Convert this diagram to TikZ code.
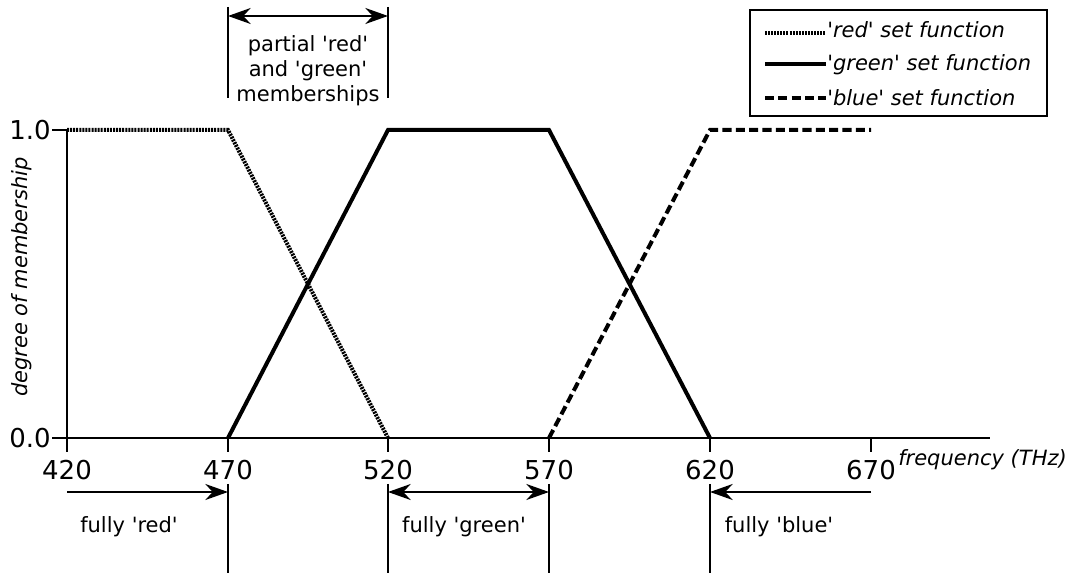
\documentclass[tikz,border=0pt]{standalone}
\usepackage{fontspec}
\setmainfont{DejaVu Sans}[Ligatures=TeXOff]
\usetikzlibrary{arrows.meta}
\begin{document}
\begin{tikzpicture}[x=0.75pt,y=-0.75pt,
  axisline/.style={line width=2.2pt},
  ticklabel/.style={font=\fontsize{19.5}{22}\selectfont, inner sep=0pt},
  smalltext/.style={font=\fontsize{15.75}{19}\selectfont, inner sep=0pt},
  redfn/.style={line width=3pt, dash pattern=on 1.5pt off 0.8pt},
  greenfn/.style={line width=3pt},
  bluefn/.style={line width=3pt, dash pattern=on 6.8pt off 3.2pt},
  guide/.style={line width=1.4pt},
  span/.style={line width=1.5pt}]
\useasboundingbox (0,0) rectangle (1072,573);

% key points of the axes
\coordinate (o) at (67,438);
\coordinate (ytop) at (67,130);
\coordinate (xend) at (990,438);
\foreach \f/\x in {420/67,470/228,520/388,570/549,620/710,670/871}{
  \coordinate (b\f) at (\x,438);
  \coordinate (t\f) at (\x,130);
}

% axes with ticks
\draw[axisline] (ytop) -- (67,452);
\draw[axisline] (52,438) -- (xend);
\draw[axisline] (52,130) -- (ytop);
\foreach \f in {470,520,570,620,670}{
  \draw[axisline] (b\f) -- ++(0,14);
}
\node[ticklabel, anchor=east] (l10) at (51,130) {1.0};
\node[ticklabel, anchor=east] (l00) at (51,438) {0.0};
\foreach \f/\x in {420/67,470/228,520/388,570/549,620/710,670/871}{
  \node[ticklabel, anchor=base] (n\f) at (\x,480) {\f};
}
\node[smalltext, anchor=base west] (xlab) at (898,466) {\itshape frequency (THz)};
\node[smalltext, rotate=90] (ylab) at (22,277) {\itshape degree of membership};

% membership functions
\draw[redfn] (t420) -- (t470) -- (b520);
\draw[greenfn, line join=miter] (b470) -- (t520) -- (t570) -- (b620);
\draw[bluefn] (b570) -- (t620) -- (t670);

% partial region marker
\coordinate (pa1) at (228,7);
\coordinate (pa2) at (228,98);
\coordinate (pb1) at (388,7);
\coordinate (pb2) at (388,98);
\coordinate (pm1) at (228,16);
\coordinate (pm2) at (388,16);
\draw[guide] (pa1) -- (pa2);
\draw[guide] (pb1) -- (pb2);
\draw[span, {Stealth[length=17pt,width=12pt,inset=5.5pt]}-{Stealth[length=17pt,width=12pt,inset=5.5pt]}] (pm1) -- (pm2);
\node[smalltext, anchor=base] (partial1) at (308,52) {partial 'red'};
\node[smalltext, anchor=base] (partial2) at (308,77) {and 'green'};
\node[smalltext, anchor=base] (partial3) at (308,102) {memberships};

% fully-member regions
\foreach \x in {228,388,549,710}{
  \draw[guide] (\x,484) -- (\x,573);
}
\coordinate (r0) at (67,492);
\coordinate (r1) at (228,492);
\coordinate (g0) at (388,492);
\coordinate (g1) at (549,492);
\coordinate (bl0) at (871,492);
\coordinate (bl1) at (710,492);
\draw[span, -{Stealth[length=17pt,width=12pt,inset=5.5pt]}] (r0) -- (r1);
\draw[span, {Stealth[length=17pt,width=12pt,inset=5.5pt]}-{Stealth[length=17pt,width=12pt,inset=5.5pt]}] (g0) -- (g1);
\draw[span, -{Stealth[length=17pt,width=12pt,inset=5.5pt]}] (bl0) -- (bl1);
\node[smalltext, anchor=base] (fr) at (129,533) {fully 'red'};
\node[smalltext, anchor=base] (fg) at (464,533) {fully 'green'};
\node[smalltext, anchor=base] (fb) at (779,533) {fully 'blue'};

% legend
\draw[line width=1.6pt] (750,10) rectangle (1047,116);
\draw[redfn] (765,33) -- (826,33);
\draw[greenfn] (765,64) -- (826,64);
\draw[bluefn] (765,98) -- (826,98);
\node[smalltext, anchor=base west] (lr) at (827,38) {\itshape 'red' set function};
\node[smalltext, anchor=base west] (lg) at (827,71) {\itshape 'green' set function};
\node[smalltext, anchor=base west] (lb) at (827,106) {\itshape 'blue' set function};
\end{tikzpicture}
\end{document}
